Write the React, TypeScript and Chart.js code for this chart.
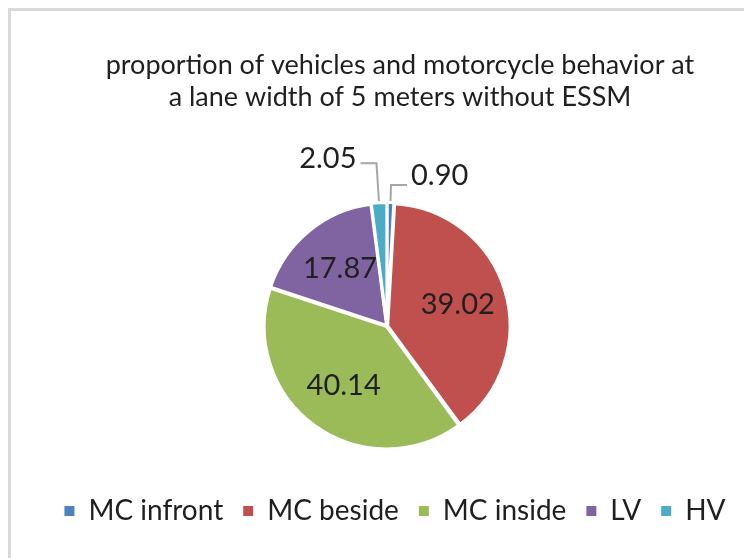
import React, { useEffect, useRef } from 'react';
import { Chart, registerables } from 'chart.js';

Chart.register(...registerables);

const categories = ['MC infront', 'MC beside', 'MC inside', 'LV', 'HV'];
const values = [0.9, 39.02, 40.14, 17.87, 2.05];
const colors = ['#4F81BD', '#C0504D', '#9BBB59', '#8064A2', '#4BACC6'];
const titleLines = [
  'proportion of vehicles and motorcycle behavior at',
  'a lane width of 5 meters without ESSM',
];

const FONT = 'Lato, "Open Sans", sans-serif';
const TEXT = '#1f1f1f';

// leader line settings for the small slices (by index)
const leaders: Record<number, { len: number; dy: number }> = {
  0: { len: 16, dy: -9 },
  4: { len: 38, dy: -5 },
};

const sliceLabels = {
  id: 'sliceLabels',
  afterDatasetsDraw(chart: any) {
    const { ctx } = chart;
    const meta = chart.getDatasetMeta(0);
    const data = chart.data.datasets[0].data as number[];
    ctx.save();
    ctx.fillStyle = TEXT;
    meta.data.forEach((arc: any, i: number) => {
      const p = arc.getProps(['x', 'y', 'startAngle', 'endAngle', 'outerRadius'], true);
      const mid = (p.startAngle + p.endAngle) / 2;
      const off = arc.options.offset || 0;
      const cx = p.x + Math.cos(mid) * off;
      const cy = p.y + Math.sin(mid) * off;
      const text = data[i].toFixed(2);
      const ld = leaders[i];
      ctx.font = `29px ${FONT}`;
      if (!ld) {
        const r = p.outerRadius * 0.58;
        ctx.textAlign = 'center';
        ctx.textBaseline = 'middle';
        ctx.fillText(text, cx + Math.cos(mid) * r, cy + Math.sin(mid) * r);
      } else {
        const ax = cx + Math.cos(mid) * p.outerRadius;
        const ay = cy + Math.sin(mid) * p.outerRadius;
        const ex = cx + Math.cos(mid) * (p.outerRadius + ld.len);
        const ey = cy + Math.sin(mid) * (p.outerRadius + ld.len);
        const dir = Math.cos(mid) >= 0 ? 1 : -1;
        const hx = ex + dir * 16;
        ctx.strokeStyle = '#A6A6A6';
        ctx.lineWidth = 2;
        ctx.beginPath();
        ctx.moveTo(ax, ay);
        ctx.lineTo(ex, ey);
        ctx.lineTo(hx, ey);
        ctx.stroke();
        ctx.textAlign = dir > 0 ? 'left' : 'right';
        ctx.textBaseline = 'middle';
        ctx.fillText(text, hx + dir * 4, ey + ld.dy);
      }
    });
    ctx.restore();
  },
};

// shift title and legend horizontally to match the original layout
const boxShift = {
  id: 'boxShift',
  afterLayout(chart: any) {
    if (chart.titleBlock) {
      chart.titleBlock.left += 26;
    }
    if (chart.legend) {
      chart.legend.left += 16;
    }
  },
};

export default function App() {
  const ref = useRef<HTMLCanvasElement>(null);
  useEffect(() => {
    if (!ref.current) return;
    const chart = new Chart(ref.current, {
      type: 'pie',
      data: {
        labels: categories,
        datasets: [
          {
            data: values,
            backgroundColor: colors,
            borderColor: '#ffffff',
            borderWidth: 3,
            offset: 3,
            radius: 122,
          } as any,
        ],
      },
      options: {
        responsive: false,
        animation: false,
        layout: { padding: { top: 0, left: 11, right: 0, bottom: 23 } },
        plugins: {
          title: {
            display: true,
            text: titleLines,
            color: TEXT,
            font: { family: FONT, size: 27, weight: 'normal', lineHeight: 32 / 27 },
            padding: { top: 38, bottom: 62 },
          },
          legend: {
            position: 'bottom',
            labels: {
              boxWidth: 10,
              boxHeight: 10,
              padding: 20,
              color: TEXT,
              font: { family: FONT, size: 28 },
              generateLabels(chart: any) {
                const items = Chart.overrides.pie.plugins.legend.labels.generateLabels(chart);
                return items.map((it: any) => ({ ...it, lineWidth: 0, strokeStyle: 'rgba(0,0,0,0)' }));
              },
            },
          },
          tooltip: { enabled: false },
        },
      },
      plugins: [sliceLabels, boxShift],
    });
    return () => chart.destroy();
  }, []);

  return (
    <div
      style={{
        width: 744,
        height: 550,
        borderTop: '3px solid #D9D9D9',
        borderLeft: '3px solid #D9D9D9',
        boxSizing: 'border-box',
        background: '#fff',
        overflow: 'hidden',
      }}
    >
      <canvas ref={ref} width={741} height={547} style={{ display: 'block' }} />
    </div>
  );
}
